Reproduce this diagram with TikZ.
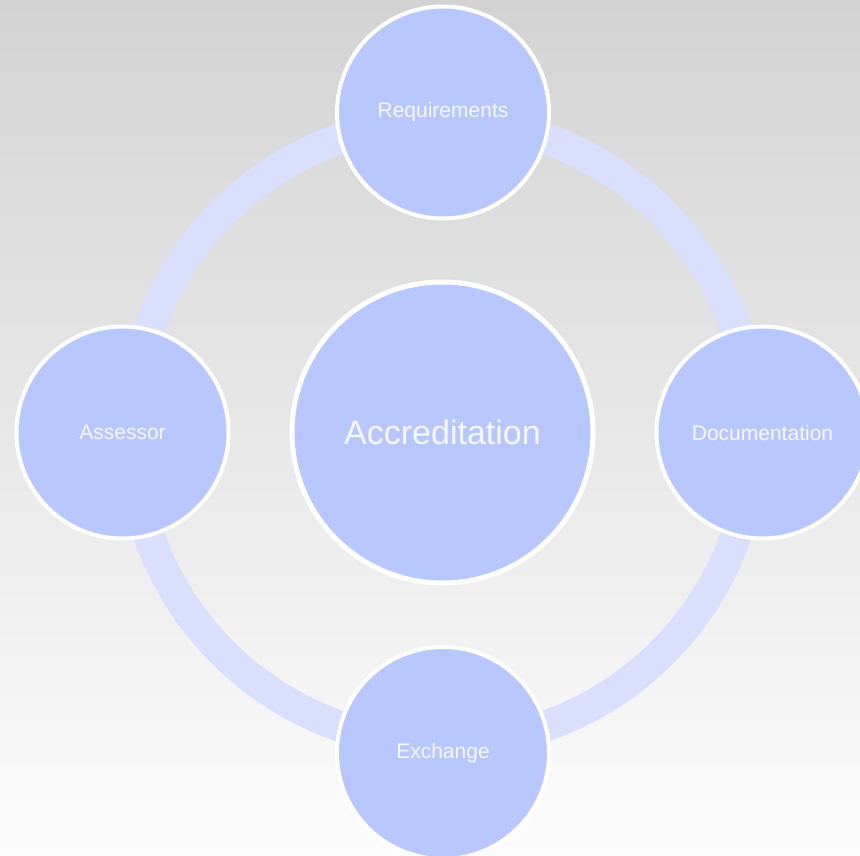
\documentclass[tikz,border=0pt]{standalone}
\usepackage{fontspec}
\setmainfont{Liberation Sans}
\definecolor{bgtop}{HTML}{D3D3D3}
\definecolor{bgbot}{HTML}{FCFCFC}
\definecolor{nodefill}{HTML}{B8C8FE}
\definecolor{ringcol}{HTML}{D9DFFC}
\definecolor{txtcol}{HTML}{F6F8FF}
\begin{document}
\begin{tikzpicture}[x=1pt,y=-1pt,
  smallnode/.style={circle,draw=white,line width=4pt,fill=nodefill,minimum size=212pt,inner sep=0pt,text=txtcol,font=\fontsize{21}{24}\selectfont},
  bignode/.style={circle,draw=white,line width=5pt,fill=nodefill,minimum size=301pt,inner sep=0pt,text=txtcol,font=\fontsize{34}{40}\selectfont}]
\useasboundingbox (0,0) rectangle (860,856);
\shade[top color=bgtop,bottom color=bgbot] (0,0) rectangle (860,856);
\draw[ringcol,line width=31pt] (442.5,432.5) circle[radius=311];
\node[bignode] (acc) at (442.5,432.5) {Accreditation};
\node[smallnode] (req) at (443,112.5) {Requirements};
\node[smallnode] (doc) at (762.5,432.5) {Documentation};
\node[smallnode] (exc) at (443,753) {Exchange};
\node[smallnode] (ass) at (122.5,432.5) {Assessor};
\end{tikzpicture}
\end{document}
